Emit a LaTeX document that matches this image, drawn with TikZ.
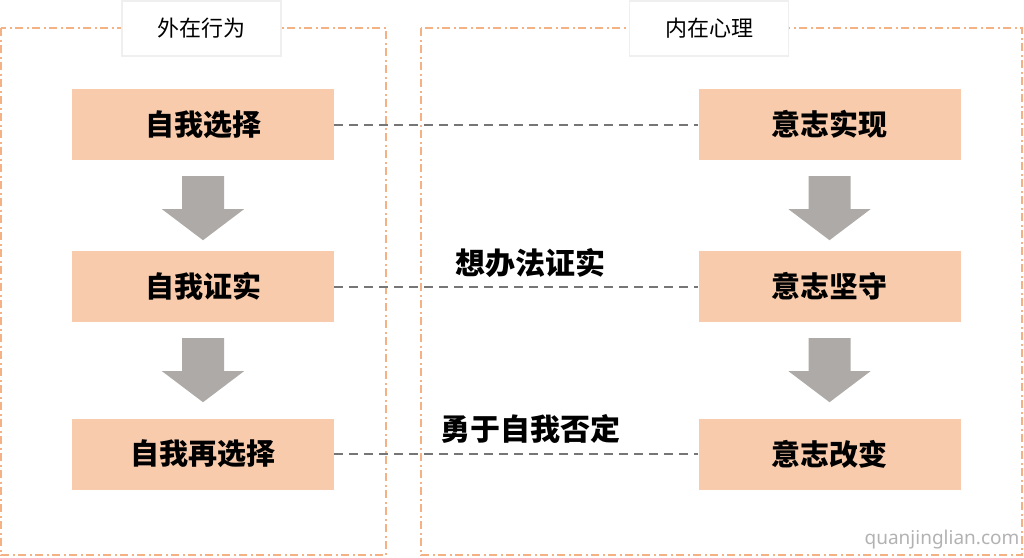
\documentclass[tikz,border=0pt]{standalone}
\usepackage{fontspec}
\newfontfamily\cjk{Noto Sans CJK SC}
\usetikzlibrary{calc}
\definecolor{boxpeach}{HTML}{F8CBAD}
\definecolor{frameorange}{HTML}{F4B183}
\definecolor{arrowgray}{HTML}{ADAAA7}
\definecolor{linkgray}{HTML}{767676}
\definecolor{titleedge}{HTML}{EFEFEF}

\begin{document}
\begin{tikzpicture}[x=1pt, y=-1pt,
  stage/.style={fill=boxpeach, minimum width=262pt, minimum height=71pt, inner sep=0pt,
    font=\cjk\bfseries\fontsize{29}{32}\selectfont},
  frame/.style={frameorange, line width=2pt, dash pattern=on 8pt off 3.5pt on 2pt off 3.5pt},
  heading/.style={fill=white, draw=titleedge, line width=1.5pt, minimum width=159pt,
    minimum height=55pt, inner sep=0pt, font=\cjk\fontsize{22}{25}\selectfont},
  link/.style={linkgray, line width=2pt, dash pattern=on 9pt off 6pt},
  gloss/.style={font=\cjk\bfseries\fontsize{30}{33}\selectfont}]
  \useasboundingbox (0,0) rectangle (1024,557);
  % the two dash-dot frames
  \draw[frame] (1,28) rectangle (386,555);
  \draw[frame] (421,28) rectangle (1022,555);
  \node[heading] (outer) at (201.5,28.5) {外在行为};
  \node[heading] (inner) at (709,28.5) {内在心理};
  % outward acts
  \node[stage] (l1) at (203,124.5) {自我选择};
  \node[stage] (l2) at (203,286.5) {自我证实};
  \node[stage] (l3) at (203,454) {自我再选择};
  % inner mind
  \node[stage] (r1) at (829.5,124.5) {意志实现};
  \node[stage] (r2) at (829.5,286.5) {意志坚守};
  \node[stage] (r3) at (829.5,454) {意志改变};
  % block arrows down each column
  \foreach \a in {l1,l2,r1,r2}
    \fill[arrowgray] ($(\a.south)+(-21,16)$) -- ++(42,0) -- ++(0,33) -- ++(20,0)
      -- ($(\a.south)+(0,80)$) -- ($(\a.south)+(-41,49)$) -- ++(20,0) -- cycle;
  % links across
  \foreach \i in {1,2,3}
    \draw[link] (l\i) -- (r\i);
  \node[gloss] (prove) at (530,263) {想办法证实};
  \node[gloss] (deny) at (530,429) {勇于自我否定};
  \node[font=\fontspec{Noto Sans}\fontsize{19}{21}\selectfont, text=gray!60] (mark) at (942,540) {quanjinglian.com};
\end{tikzpicture}
\end{document}
